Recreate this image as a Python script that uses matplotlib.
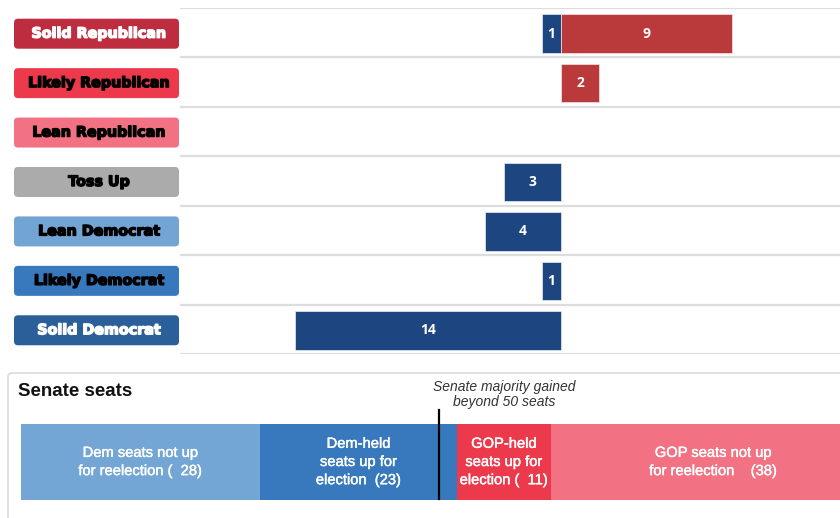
import matplotlib
matplotlib.use("Agg")
import matplotlib.pyplot as plt
from matplotlib.patches import FancyBboxPatch
import matplotlib.patheffects as pe
import numpy as np

# ---------------- data ----------------
categories = ["Solid Republican", "Likely Republican", "Lean Republican",
              "Toss Up", "Lean Democrat", "Likely Democrat", "Solid Democrat"]
cat_colors = ["#BE2C3F", "#EC3A4C", "#F27283", "#ABABAB", "#72A4D4", "#3779BC", "#2A5F99"]
cat_text_colors = ["white", "black", "black", "black", "black", "black", "white"]
dem_held = [1, 0, 0, 3, 4, 1, 14]
gop_held = [9, 2, 0, 0, 0, 0, 0]

seat_labels = ["Dem seats not up\nfor reelection (  28)",
               "Dem-held\nseats up for\nelection  (23)",
               "GOP-held\nseats up for\nelection (  11)",
               "GOP seats not up\nfor reelection    (38)"]
seat_values = [28, 23, 11, 38]
seat_colors = ["#73A5D5", "#3779BC", "#EC3A4C", "#F27283"]
majority_marker = 48.9
majority_text = "Senate majority gained\nbeyond 50 seats"

DEM_BAR = "#1D4580"
GOP_BAR = "#BA3A3B"

W, H = 840, 518
fig = plt.figure(figsize=(W / 100, H / 100), dpi=100)

def fpos(x0, y0, x1, y1):
    """pixel box (top-left origin) -> figure fraction rect"""
    return [x0 / W, 1 - y1 / H, (x1 - x0) / W, (y1 - y0) / H]

# overlay for panel frame
ov = fig.add_axes([0, 0, 1, 1], zorder=0)
ov.set_xlim(0, W)
ov.set_ylim(H, 0)
ov.axis("off")
ov.add_patch(FancyBboxPatch((8, 373), 900, 200,
                            boxstyle="round,pad=0,rounding_size=4",
                            fc="white", ec="#DDDDDD", lw=1.3))

# ---------------- top diverging chart ----------------
ax = fig.add_axes(fpos(180, 8, 840, 354), zorder=2)
n = len(categories)
ax.set_ylim(n - 0.5, -0.5)
ax.set_xlim(-20.05, 14.68)
for b in np.arange(-0.5, n, 1.0):
    ax.axhline(b, color="#DDDDDD", lw=1.6, zorder=0)
for i in range(n):
    if dem_held[i]:
        ax.barh(i + 0.02, -dem_held[i], height=0.78, color=DEM_BAR, edgecolor="#E8ECF4",
                lw=0.5, zorder=2)
        ax.text(-dem_held[i] / 2, i + 0.02, str(dem_held[i]), ha="center", va="center",
                color="white", fontsize=10, fontweight="bold", family="Open Sans", zorder=3)
    if gop_held[i]:
        ax.barh(i + 0.02, gop_held[i], height=0.78, color=GOP_BAR, edgecolor="#F4E4E4",
                lw=0.5, zorder=2)
        ax.text(gop_held[i] / 2, i + 0.02, str(gop_held[i]), ha="center", va="center",
                color="white", fontsize=10, fontweight="bold", family="Open Sans", zorder=3)
ax.axis("off")

# category label column
lab = fig.add_axes(fpos(0, 8, 180, 354), zorder=2)
lab.set_xlim(0, 180)
lab.set_ylim(n - 0.5, -0.5)
lab.axis("off")
row_px = 346 / n
bh = 30 / row_px
for i, (c, col, tcol) in enumerate(zip(categories, cat_colors, cat_text_colors)):
    lab.add_patch(FancyBboxPatch((14, i + 0.02 - bh / 2), 165, bh,
                                 boxstyle="round,pad=0,rounding_size=4",
                                 mutation_aspect=1 / row_px,
                                 fc=col, ec="none"))
    lab.text(99, i + 0.02, c, ha="center", va="center", color=tcol, fontsize=10.3,
             fontweight="bold", family="DejaVu Sans",
             path_effects=[pe.withStroke(linewidth=1.0, foreground=tcol)])

# ---------------- bottom senate seats bar ----------------
fig.text(18 / W, 1 - 392 / H, "Senate seats", fontsize=13.5, fontweight="bold",
         family="Liberation Sans", va="center", ha="left", color="#111111")

bx = fig.add_axes(fpos(21, 424, 876, 500), zorder=2)
total = sum(seat_values)
bx.set_xlim(0, total)
bx.set_ylim(0, 1)
bx.axis("off")
left = 0
for v, col, lbl in zip(seat_values, seat_colors, seat_labels):
    bx.barh(0.5, v, left=left, height=1.0, color=col, edgecolor="none")
    bx.text(left + v / 2, 0.5, lbl, ha="center", va="center", color="white",
            fontsize=10.6, family="Liberation Sans", linespacing=1.38,
            path_effects=[pe.withStroke(linewidth=0.3, foreground="white")])
    left += v

bx.plot([majority_marker, majority_marker], [0.01, 1.18], color="black", lw=1.6,
        clip_on=False, transform=bx.get_xaxis_transform(), zorder=5)
bx.text(majority_marker + 7.6, 1.2, majority_text, ha="center", va="bottom",
        fontsize=10, style="italic", family="Liberation Sans", color="#333333",
        linespacing=1.05, transform=bx.get_xaxis_transform())

fig.savefig("out.png", dpi=100)
